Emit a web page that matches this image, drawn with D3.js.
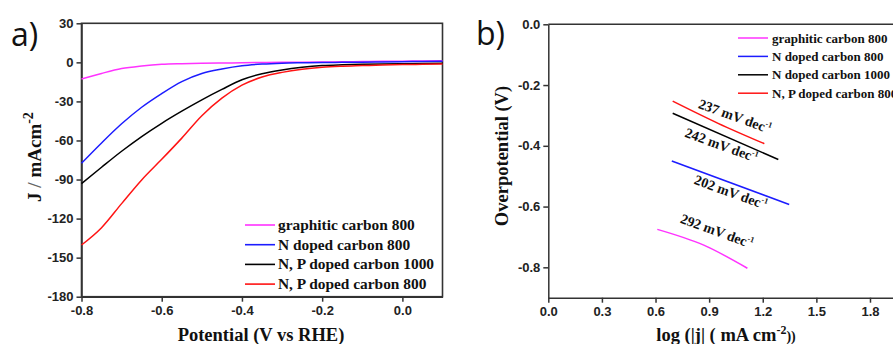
<!DOCTYPE html>
<html>
<head>
<meta charset="utf-8">
<script src="https://cdn.jsdelivr.net/npm/d3@7"></script>
<style>
body { margin: 0; background: #fff; }
.axis text { font-family: "Liberation Sans", Arial, sans-serif; font-weight: bold; font-size: 13px; fill: #222; }
.axis path, .axis line { stroke: #333; stroke-width: 1.5; }
.title { font-family: "Liberation Serif", "Times New Roman", serif; font-weight: bold; font-size: 18.5px; fill: #111; }
.legend, .slope { font-family: "Liberation Serif", "Times New Roman", serif; font-weight: bold; fill: #111; }
.panel-label { font-family: "Open Sans", sans-serif; font-size: 32px; fill: #111; }
</style>
</head>
<body>
<div id="chart"></div>
<script>
const container_id = 'chart';
const width = 893, height = 344;

// panel a) polarisation curves
const potential = [-0.8, -0.75, -0.7, -0.65, -0.6, -0.55, -0.5, -0.45, -0.4, -0.35, -0.3, -0.25, -0.2, -0.15, -0.1, -0.05, 0, 0.05, 0.1];
const jGraphitic800 = [-12.8, -8.5, -4.8, -2.8, -1.5, -1.0, -0.7, -0.5, -0.3, -0.1, 0, 0.1, 0.3, 0.4, 0.6, 0.8, 0.9, 1.1, 1.2];
const jNDoped800 = [-77.5, -61.9, -47.2, -34.5, -24.0, -14.8, -8.6, -5.1, -2.6, -1.3, -0.6, -0.3, -0.1, 0, 0.1, 0.3, 0.5, 0.7, 0.9];
const jNPDoped1000 = [-93.2, -80.6, -68.3, -57, -46.8, -37.5, -28.8, -20.8, -13.4, -8.7, -5.8, -3.8, -2.5, -1.9, -1.5, -1.2, -1.0, -0.8, -0.6];
const jNPDoped800 = [-140.3, -127, -108.5, -90.3, -74.5, -58.2, -41, -27.5, -17.5, -11.3, -7.7, -5.3, -3.8, -3.0, -2.5, -2.0, -1.7, -1.5, -1.3];
const legendA = ['graphitic carbon 800', 'N doped carbon 800', 'N, P doped carbon 1000', 'N, P doped carbon 800'];
const ticksAX = [-0.8, -0.6, -0.4, -0.2, 0.0];
const ticksAY = [30, 0, -30, -60, -90, -120, -150, -180];

// panel b) Tafel plots
const tafelGraphiticX = [0.61, 0.87, 1.114];
const tafelGraphiticY = [-0.675, -0.727, -0.803];
const tafelN800X = [0.691, 1.348];
const tafelN800Y = [-0.450, -0.593];
const tafelN1000X = [0.696, 1.287];
const tafelN1000Y = [-0.293, -0.445];
const tafelNP800X = [0.696, 0.95, 1.209];
const tafelNP800Y = [-0.253, -0.326, -0.393];
const legendB = ['graphitic carbon 800', 'N doped carbon 800', 'N doped carbon 1000', 'N, P doped carbon 800'];
const slopeValues = ['292', '202', '242', '237'];
const slopeAtX = [0.944, 1.022, 0.970, 1.045];
const slopeAtY = [-0.680, -0.552, -0.397, -0.302];
const ticksBX = [0.0, 0.3, 0.6, 0.9, 1.2, 1.5, 1.8];
const ticksBY = [0.0, -0.2, -0.4, -0.6, -0.8];

const colors = ['#ff33ff', '#1c1cff', '#000000', '#ff1414'];

const xA = d3.scaleLinear().domain([-0.8, 0.1]).range([81.5, 442.5]);
const yA = d3.scaleLinear().domain([-180, 30]).range([296.7, 23.3]);
const xB = d3.scaleLinear().domain([0, 2.1]).range([548.3, 923.6]);
const yB = d3.scaleLinear().domain([-0.9, 0]).range([297.7, 24.3]);

const fmt1 = d => d.toFixed(1);

function drawPanelA(svg) {
    const [x0, x1] = xA.range();
    const [y0, y1] = yA.range();

    svg.append('g')
        .attr('class', 'axis')
        .attr('transform', `translate(0,${y0})`)
        .call(d3.axisBottom(xA).tickValues(ticksAX).tickFormat(fmt1).tickSize(5).tickSizeOuter(0).tickPadding(4));
    svg.append('g')
        .attr('class', 'axis')
        .attr('transform', `translate(${x0},0)`)
        .call(d3.axisLeft(yA).tickValues(ticksAY).tickFormat(d => String(d)).tickSize(5).tickSizeOuter(0).tickPadding(3));

    svg.append('rect')
        .attr('x', x0).attr('y', y1)
        .attr('width', x1 - x0).attr('height', y0 - y1)
        .attr('fill', 'none').attr('stroke', '#333').attr('stroke-width', 1.6);

    const line = d3.line()
        .x((d, i) => xA(potential[i]))
        .y(d => yA(d))
        .curve(d3.curveMonotoneX);

    [jGraphitic800, jNDoped800, jNPDoped1000, jNPDoped800].forEach((series, i) => {
        svg.append('path')
            .datum(series)
            .attr('d', line)
            .attr('fill', 'none')
            .attr('stroke', colors[i])
            .attr('stroke-width', 1.5);
    });

    // legend
    const lg = svg.append('g').attr('transform', 'translate(245,225)');
    legendA.forEach((label, i) => {
        lg.append('line')
            .attr('x1', 0).attr('x2', 30)
            .attr('y1', i * 19.7).attr('y2', i * 19.7)
            .attr('stroke', colors[i]).attr('stroke-width', 1.6);
        lg.append('text')
            .attr('class', 'legend')
            .attr('x', 33).attr('y', i * 19.7 + 5)
            .style('font-size', '15.4px')
            .text(label);
    });

    svg.append('text')
        .attr('class', 'title')
        .attr('x', 261).attr('y', 341)
        .attr('text-anchor', 'middle')
        .text('Potential (V vs RHE)');

    const yt = svg.append('text')
        .attr('class', 'title')
        .attr('transform', 'translate(41,157) rotate(-90)')
        .attr('text-anchor', 'middle')
        .style('font-size', '19px');
    yt.append('tspan').text('J ');
    yt.append('tspan').attr('fill', '#666').text('/');
    yt.append('tspan').text(' mAcm');
    yt.append('tspan').attr('dy', -8).style('font-size', '14px').text('-2');

    svg.append('text')
        .attr('class', 'panel-label')
        .attr('x', 11).attr('y', 46)
        .text('a)');
}

function drawPanelB(svg) {
    const [x0] = xB.range();
    const [y0, y1] = yB.range();

    svg.append('g')
        .attr('class', 'axis')
        .attr('transform', `translate(0,${y0})`)
        .call(d3.axisBottom(xB).tickValues(ticksBX).tickFormat(fmt1).tickSize(5).tickSizeOuter(0).tickPadding(4));
    svg.append('g')
        .attr('class', 'axis')
        .attr('transform', `translate(${x0},0)`)
        .call(d3.axisLeft(yB).tickValues(ticksBY).tickFormat(fmt1).tickSize(5).tickSizeOuter(0).tickPadding(3));

    svg.append('line')
        .attr('x1', x0).attr('x2', width)
        .attr('y1', y1).attr('y2', y1)
        .attr('stroke', '#333').attr('stroke-width', 1.6);

    const line = d3.line().curve(d3.curveMonotoneX);
    const sets = [
        [tafelGraphiticX, tafelGraphiticY],
        [tafelN800X, tafelN800Y],
        [tafelN1000X, tafelN1000Y],
        [tafelNP800X, tafelNP800Y]
    ];
    sets.forEach(([xs, ys], i) => {
        svg.append('path')
            .attr('d', line(xs.map((x, k) => [xB(x), yB(ys[k])])))
            .attr('fill', 'none')
            .attr('stroke', colors[i])
            .attr('stroke-width', 1.5);
    });

    slopeValues.forEach((v, i) => {
        const cx = xB(slopeAtX[i]), cy = yB(slopeAtY[i]);
        const t = svg.append('text')
            .attr('class', 'slope')
            .attr('x', cx).attr('y', cy + 5)
            .attr('text-anchor', 'middle')
            .attr('transform', `rotate(20,${cx},${cy})`)
            .style('font-size', '14px');
        t.append('tspan').text(v + ' mV dec');
        t.append('tspan').attr('dy', -6).style('font-size', '8px').text('-1');
    });

    // legend
    const lg = svg.append('g').attr('transform', 'translate(738,38)');
    legendB.forEach((label, i) => {
        lg.append('line')
            .attr('x1', 0).attr('x2', 30)
            .attr('y1', i * 18.4).attr('y2', i * 18.4)
            .attr('stroke', colors[i]).attr('stroke-width', 1.5);
        lg.append('text')
            .attr('class', 'legend')
            .attr('x', 34).attr('y', i * 18.4 + 4.5)
            .style('font-size', '13px')
            .text(label);
    });

    const xt = svg.append('text')
        .attr('class', 'title')
        .attr('x', 726).attr('y', 341)
        .attr('text-anchor', 'middle');
    xt.append('tspan').text('log (|j| ( mA cm');
    xt.append('tspan').attr('dy', -7).style('font-size', '12px').text('-2');
    xt.append('tspan').attr('dy', 7).style('font-size', '14px').text('))');

    svg.append('text')
        .attr('class', 'title')
        .attr('transform', 'translate(508,156) rotate(-90)')
        .attr('text-anchor', 'middle')
        .text('Overpotential (V)');

    svg.append('text')
        .attr('class', 'panel-label')
        .attr('x', 476).attr('y', 45)
        .text('b)');
}

function main() {
    const svg = d3.select('#' + container_id)
        .append('svg')
        .attr('width', width)
        .attr('height', height);

    drawPanelA(svg);
    drawPanelB(svg);
}

main();
</script>
</body>
</html>
